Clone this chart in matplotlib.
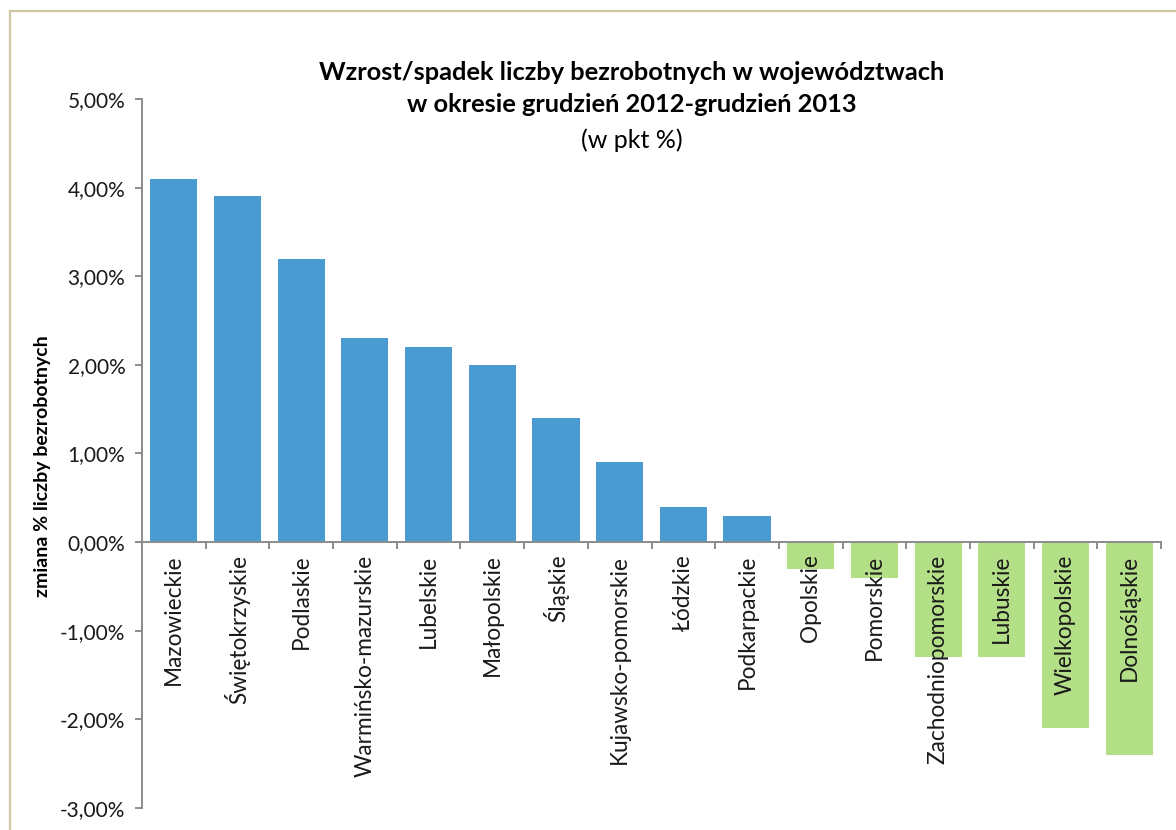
import matplotlib
matplotlib.use("Agg")
import matplotlib.pyplot as plt
from matplotlib.lines import Line2D
from matplotlib.ticker import FuncFormatter, FixedLocator

plt.rcParams['font.family'] = ['Lato', 'DejaVu Sans']

regions = ["Mazowieckie", "Świętokrzyskie", "Podlaskie", "Warmińsko-mazurskie",
           "Lubelskie", "Małopolskie", "Śląskie", "Kujawsko-pomorskie", "Łódzkie",
           "Podkarpackie", "Opolskie", "Pomorskie", "Zachodniopomorskie",
           "Lubuskie", "Wielkopolskie", "Dolnośląskie"]
change_pct = [4.1, 3.9, 3.2, 2.3, 2.2, 2.0, 1.4, 0.9, 0.4, 0.3,
              -0.3, -0.4, -1.3, -1.3, -2.1, -2.4]
y_ticks = [-3, -2, -1, 0, 1, 2, 3, 4, 5]

BLUE = "#4B9BD3"
GREEN = "#B3DF87"
AXIS_GRAY = "#8C8C8C"

W, H = 1176, 830
fig = plt.figure(figsize=(W / 100, H / 100), dpi=100)

# frame around the chart area
fig.add_artist(Line2D([10 / W, 10 / W], [0, 1 - 11 / H], transform=fig.transFigure,
                      color="#CFC6A4", lw=1.6))
fig.add_artist(Line2D([10 / W, 1], [1 - 11 / H, 1 - 11 / H], transform=fig.transFigure,
                      color="#CFC6A4", lw=1.6))

left, right, top, bottom = 142, 1161, 99, 808
ax = fig.add_axes([left / W, 1 - bottom / H, (right - left) / W, (bottom - top) / H])

xs = list(range(len(regions)))
colors = [BLUE if v >= 0 else GREEN for v in change_pct]
ax.bar(xs, change_pct, width=0.74, color=colors, zorder=1)

ax.set_xlim(-0.5, len(regions) - 0.5)
ax.set_ylim(-3, 5)

for s in ("top", "right"):
    ax.spines[s].set_visible(False)
ax.spines["bottom"].set_position(("data", 0))
for s in ("left", "bottom"):
    ax.spines[s].set_color(AXIS_GRAY)
    ax.spines[s].set_linewidth(1.4)
ax.spines["bottom"].set_zorder(3)

ax.set_yticks(y_ticks)
ax.yaxis.set_major_formatter(FuncFormatter(lambda v, p: f"{v:.2f}%".replace(".", ",")))
ax.tick_params(axis="y", direction="out", length=5, width=1.4, color=AXIS_GRAY,
               labelsize=15, pad=7, labelcolor="#1a1a1a")

# category boundaries get the tick marks, the names sit at bar centres
ax.xaxis.set_major_locator(FixedLocator([i - 0.5 for i in range(len(regions) + 1)]))
ax.xaxis.set_major_formatter(FuncFormatter(lambda v, p: ""))
ax.xaxis.set_minor_locator(FixedLocator(xs))
ax.set_xticklabels(regions, minor=True, rotation=90, va="top", ha="center")
ax.tick_params(axis="x", which="major", direction="out", length=5, width=1.4,
               color=AXIS_GRAY)
ax.tick_params(axis="x", which="minor", length=0, pad=9, labelsize=16.3,
               labelcolor="#1a1a1a")
for lbl in ax.get_xticklabels(minor=True):
    lbl.set_zorder(4)

fig.text(43 / W, 1 - 466 / H, "zmiana % liczby bezrobotnych", rotation=90,
         ha="center", va="center", fontsize=14, fontweight="bold")

fig.text(632 / W, 1 - 72 / H, "Wzrost/spadek liczby bezrobotnych w województwach",
         ha="center", va="center", fontsize=18.3, fontweight="bold")
fig.text(632 / W, 1 - 104 / H, "w okresie grudzień 2012-grudzień 2013",
         ha="center", va="center", fontsize=18.3, fontweight="bold")
fig.text(632 / W, 1 - 140 / H, "(w pkt %)",
         ha="center", va="center", fontsize=18)

fig.savefig("out.png", dpi=100, facecolor="white")
